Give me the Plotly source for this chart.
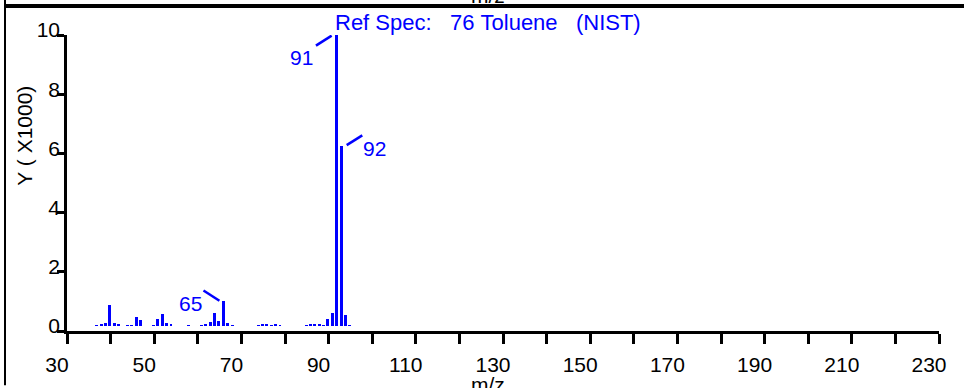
import plotly.graph_objects as go

# Reference spectrum of toluene, abundance in thousands
mz = [36, 37, 38, 39, 40, 41, 43, 44, 45, 46, 49, 50, 51, 52, 53, 57,
      60, 61, 62, 63, 64, 65, 66, 67, 73, 74, 75, 76, 77, 78,
      84, 85, 86, 87, 88, 89, 90, 91, 92, 93, 94]
abundance = [0.20, 0.24, 0.28, 0.89, 0.27, 0.22, 0.20, 0.20, 0.47, 0.37, 0.20, 0.40, 0.59, 0.28, 0.21, 0.20,
             0.20, 0.21, 0.30, 0.62, 0.33, 1.02, 0.26, 0.20, 0.20, 0.22, 0.21, 0.20, 0.22, 0.20,
             0.20, 0.21, 0.21, 0.21, 0.20, 0.42, 0.61, 10.0, 6.24, 0.53, 0.20]
labelled_peaks = [65, 91, 92]
x_tickvals = list(range(30, 231, 20))
y_tickvals = [0, 2, 4, 6, 8, 10]
title = "Ref Spec:   76 Toluene   (NIST)"

W, H = 964, 388
L, R, T, B = 67, 25, 35, 53
BLUE = "#0000ff"
BASE = 0.17      # sticks start a few px above the axis line
FONT = "Liberation Sans, Arial, sans-serif"


def paper(x, y):
    # pixel position -> paper coords
    return (x - L) / (W - L - R), (H - B - y) / (H - T - B)


fig = go.Figure()
fig.add_trace(go.Bar(
    x=mz, y=[a - BASE for a in abundance], base=BASE,
    width=0.68, offset=0.51,
    marker=dict(color=BLUE, line=dict(width=0)),
    hoverinfo="skip",
))

# leader line (dx0, dy0, dx1, dy1) and label offset (dx, dy) relative to each peak top
label_style = {
    65: dict(line=(-3.7, 0.35, -0.04, 0.0), text=(-6.75, -0.1)),
    91: dict(line=(-3.9, -0.36, -0.3, -0.02), text=(-7.2, -0.77)),
    92: dict(line=(2.15, 0.04, 5.72, 0.37), text=(8.5, -0.07)),
}
shapes = []
annotations = []
for p in labelled_peaks:
    top = abundance[mz.index(p)]
    st = label_style[p]
    dx0, dy0, dx1, dy1 = st["line"]
    shapes.append(dict(type="line", xref="x", yref="y",
                       x0=p + dx0, y0=top + dy0, x1=p + dx1, y1=top + dy1,
                       line=dict(color=BLUE, width=2.5)))
    tx, ty = st["text"]
    annotations.append(dict(x=p + tx, y=top + ty, xref="x", yref="y", text=str(p),
                            showarrow=False, xanchor="center", yanchor="middle",
                            font=dict(size=21, color=BLUE, family=FONT)))

hx, hy = paper(333, 22)
annotations.append(dict(x=hx, y=hy, xref="paper", yref="paper",
                        text=title.replace(" ", "\u00a0"), showarrow=False,
                        xanchor="left", yanchor="middle",
                        font=dict(size=22, color=BLUE, family=FONT)))

# axis titles, placed as in the cropped original
yx, yy = paper(25, 137)
annotations.append(dict(x=yx, y=yy, xref="paper", yref="paper", text="Y ( X1000)",
                        textangle=-90, showarrow=False, xanchor="center", yanchor="middle",
                        font=dict(size=21, color="black", family=FONT)))
bx, by = paper(488, 389)
annotations.append(dict(x=bx, y=by, xref="paper", yref="paper", text="m/z",
                        showarrow=False, xanchor="center", yanchor="middle",
                        font=dict(size=21, color="black", family=FONT)))
tx_, ty_ = paper(488, -5)
annotations.append(dict(x=tx_, y=ty_, xref="paper", yref="paper", text="m/z",
                        showarrow=False, xanchor="center", yanchor="middle",
                        font=dict(size=21, color="black", family=FONT)))

# frame bits of the panel above / to the left
x0, y0 = paper(5, 5.5)
x1, _ = paper(966, 5.5)
shapes.append(dict(type="line", xref="paper", yref="paper", x0=x0, y0=y0, x1=x1, y1=y0,
                   line=dict(color="black", width=4)))
lx, ly0 = paper(5, -2)
_, ly1 = paper(5, 390)
shapes.append(dict(type="line", xref="paper", yref="paper", x0=lx, y0=ly0, x1=lx, y1=ly1,
                   line=dict(color="black", width=2)))

fig.update_layout(
    width=W, height=H,
    margin=dict(l=L, r=R, t=T, b=B),
    paper_bgcolor="white", plot_bgcolor="white",
    showlegend=False,
    font=dict(family=FONT, size=21, color="black"),
    shapes=shapes, annotations=annotations,
    bargap=0,
)
fig.update_xaxes(
    range=[30, 230], tickvals=x_tickvals, ticktext=[str(v) for v in x_tickvals],
    showgrid=False, zeroline=False,
    showline=True, linecolor="black", linewidth=2.5,
    ticks="outside", ticklen=10, tickwidth=2.5, tickcolor="black",
    minor=dict(dtick=10, tick0=30, ticks="outside", ticklen=10, tickwidth=2.5, tickcolor="black"),
    ticklabelshift=-10, ticklabelstandoff=3,
    tickfont=dict(size=21, color="black", family=FONT),
)
fig.update_yaxes(
    range=[0, 10], tickvals=y_tickvals,
    showgrid=False, zeroline=False,
    showline=True, linecolor="black", linewidth=2.5,
    ticks="outside", ticklen=7, tickwidth=2.5, tickcolor="black",
    ticklabelshift=-5, ticklabelstandoff=-7,
    tickfont=dict(size=21, color="black", family=FONT),
)

fig.write_html("out.html", config={"displayModeBar": False},
               post_script="document.body.style.margin = '0';")
